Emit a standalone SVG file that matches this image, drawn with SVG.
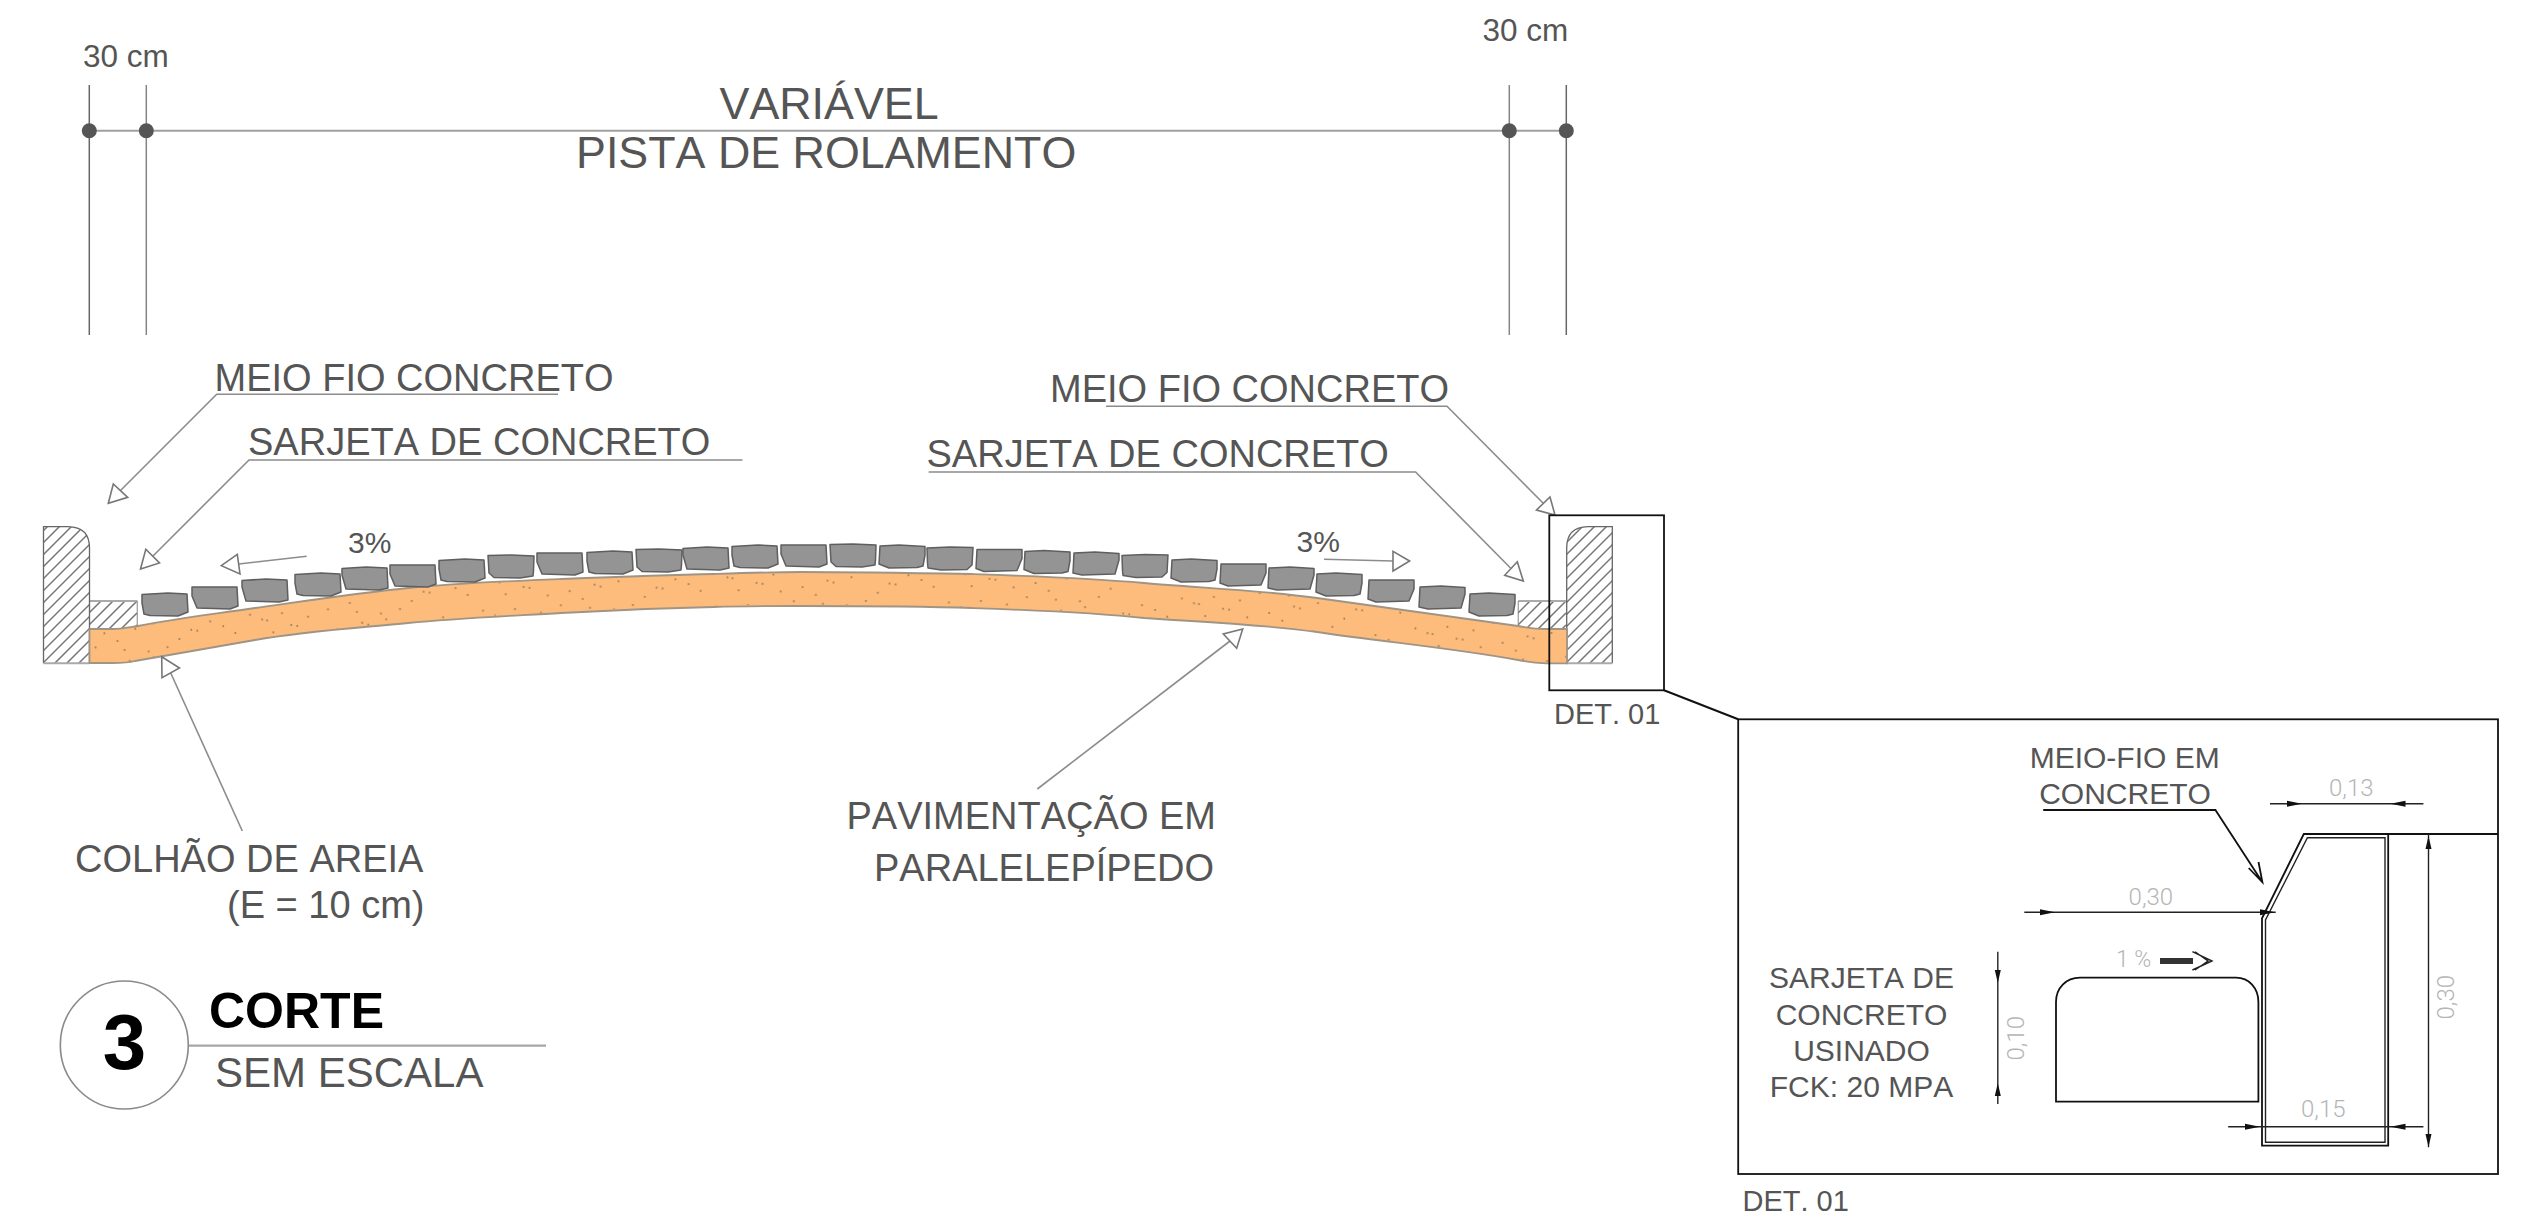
<svg xmlns="http://www.w3.org/2000/svg" xmlns:xlink="http://www.w3.org/1999/xlink" width="2531" height="1222" viewBox="0 0 2531 1222">
<style>
text{font-family:"Liberation Sans",Arial,sans-serif;fill:#555;font-kerning:none}
.t38{font-size:38px}.t30{font-size:30px}.t31{font-size:31.5px}.t29{font-size:29px}.t45{font-size:44.8px}.t42{font-size:42px}
.m{text-anchor:middle}
.dim{font-size:24px;font-family:"Roboto","Liberation Sans",sans-serif;font-weight:300;fill:#b5b5b5}
.lead{fill:none;stroke:#8c8c8c;stroke-width:1.6}
.ul{fill:none;stroke:#a6a6a6;stroke-width:2.2}
.oa{fill:#fff;stroke:#777;stroke-width:1.6;stroke-linejoin:miter}
.vl{stroke:#666;stroke-width:1.5}
.dot{fill:#555}
.cad{fill:none;stroke:#111;stroke-width:1.8}
.cadw{fill:none;stroke:#222;stroke-width:1.4}
.fa{fill:#111}
.hl{fill:none;stroke:#777;stroke-width:1.5}
.hb{fill:none;stroke:#aaa;stroke-width:2}
.hd{fill:none;stroke:#666;stroke-width:1.3}
.p{fill:#949494;stroke:#5f5f5f;stroke-width:1.5;stroke-linejoin:round}
</style>
<defs>
<path id="hx" class="hl" d="M0 0l48 -48M0 12l48 -48M0 24l48 -48M0 36l48 -48M0 48l48 -48M0 60l48 -48M0 72l48 -48M0 84l48 -48M0 96l48 -48M0 108l48 -48M0 120l48 -48M0 132l48 -48M0 144l48 -48M0 156l48 -48M0 168l48 -48M0 180l48 -48M0 192l48 -48"/>
<clipPath id="c1"><path d="M43.5 663.3V526.7H68Q89.5 527 89.5 548V663.3Z"/></clipPath>
<clipPath id="c2"><rect x="89.5" y="601" width="48" height="28"/></clipPath>
<clipPath id="c3"><rect x="1518.3" y="601" width="48.5" height="28"/></clipPath>
<clipPath id="c4"><path d="M1612.3 526.7V663.3H1566.7V548Q1566.7 527 1588 526.7Z"/></clipPath>
<pattern id="sd" width="233" height="34" patternUnits="userSpaceOnUse" patternTransform="rotate(-1)">
<path fill="none" stroke="#7d6a50" stroke-width="1.4" stroke-linecap="round" d="M6 7h.6M18 12h.6M23 13h.6M29 25h.6M38 6h.6M47 18h.6M53 19h.6M64 10h.6M71 27h.6M84 3h.6M93 23h.6M106 31h.6M113 6h.6M118 17h.6M124 19h.6M137 8h.6M142 14h.6M156 4h.6M168 30h.6M180 21h.6M186 22h.6M199 13h.6M212 18h.6M224 25h.6"/>
</pattern>
<polygon id="pa" class="p" points="0,1.5 26,0 45,1 46,19 36,23 8,22.5 2,21 0,10"/>
<polygon id="pb" class="p" points="0,1 45,1 46,20 38,23 5,22 0,10"/>
<polygon id="pc" class="p" points="0,1.5 24,0 45,1 46,21 37,23 4,22 0,8"/>
<polygon id="pd" class="p" points="0,0.5 23,0 46,1 45.5,16 45,21 32,23 6,22.5 1,18"/>
<polygon id="ar" class="fa" points="0,-3 15,0 0,3"/>
<polygon id="al" class="fa" points="0,-3 -15,0 0,3"/>
<polygon id="au" class="fa" points="-3,0 0,-13 3,0"/>
<polygon id="ad" class="fa" points="-3,0 0,13 3,0"/>
</defs>
<rect width="2531" height="1222" fill="#fff"/>

<g id="dimension-top">
<line class="vl" x1="89.3" y1="85" x2="89.3" y2="335"/>
<line class="vl" x1="146.3" y1="85" x2="146.3" y2="335" stroke-opacity=".8"/>
<line class="vl" x1="1509.3" y1="85" x2="1509.3" y2="335" stroke-opacity=".8"/>
<line class="vl" x1="1566.3" y1="85" x2="1566.3" y2="335"/>
<line x1="89" y1="130.7" x2="1566" y2="130.7" stroke="#a0a0a0" stroke-width="2"/>
<circle class="dot" cx="89.3" cy="130.7" r="7.5"/><circle class="dot" cx="146.3" cy="130.7" r="7.5"/><circle class="dot" cx="1509.3" cy="130.7" r="7.5"/><circle class="dot" cx="1566.3" cy="130.7" r="7.5"/>
<text class="t31" x="83" y="66.7">30 cm</text>
<text class="t31" x="1482.5" y="40.7">30 cm</text>
<text class="t45" x="719.5" y="119">VARIÁVEL</text>
<text class="t45" x="576" y="168">PISTA DE ROLAMENTO</text>
</g>

<g id="curb-left">
<g clip-path="url(#c2)"><use href="#hx" x="89" y="601"/></g>
<path class="hb" d="M89.5 601H137.3"/><path class="hd" d="M137.3 601V628" stroke-opacity=".6"/>
<g clip-path="url(#c1)"><use href="#hx" x="43" y="531"/></g>
<path class="hd" d="M43.5 663.3V526.7H68Q89.5 527 89.5 548V663.3"/><path class="hb" d="M43.5 663.3H89.5"/>
</g>
<g id="curb-right">
<g clip-path="url(#c3)"><use href="#hx" x="1518" y="601"/></g>
<path class="hb" d="M1518.3 601H1566.7"/><path class="hd" d="M1518.3 601V626" stroke-opacity=".6"/>
<g clip-path="url(#c4)"><use href="#hx" x="1566" y="531"/></g>
<path class="hd" d="M1612.3 663.3V526.7H1588Q1566.7 527 1566.7 548V663.3"/><path class="hb" d="M1566.7 663.3H1612.3"/>
</g>

<g id="sand-bed">
<path id="sandshape" fill="#fdbc7c" stroke="#a09484" stroke-width="1.8" d="M89.5 629H112C122 629 130 627 138 626C178 618 215 614 255 608C305 601 358 593 408 588C458 583 510 581 561 579C612 577 663 575 714 574C743 573 771 572 800 572C858 572 915 573 972 574C1029 576 1087 578 1144 583C1202 588 1260 590 1317 598C1384 607 1451 617 1518 626C1528 628 1537 629 1546 629H1567V663.3H1546C1537 663 1528 662 1518 660C1451 648 1384 642 1317 632C1260 624 1202 622 1144 618C1087 612 1029 610 972 608C915 606 858 606 800 606C771 606 743 606 714 607C663 608 612 610 561 613C510 616 459 618 408 623C357 628 306 631 255 640C210 648 165 656 135 661C128 663 120 663 112 663H89.5Z"/>
<path fill="url(#sd)" d="M91 630H112C122 630 130 628 138 627C178 619 215 615 255 609C305 602 358 594 408 589C458 584 510 582 561 580C612 578 663 576 714 575C743 574 771 573 800 573C858 573 915 574 972 575C1029 577 1087 579 1144 584C1202 589 1260 591 1317 599C1384 608 1451 618 1518 627C1528 629 1537 630 1546 630H1566V662H1546C1537 662 1528 661 1518 659C1451 647 1384 641 1317 631C1260 623 1202 621 1144 617C1087 611 1029 609 972 607C915 605 858 605 800 605C771 605 743 605 714 606C663 607 612 609 561 612C510 615 459 617 408 622C357 627 306 630 255 639C210 647 165 655 135 660C128 662 120 662 112 662H91Z"/>
</g>

<g id="pavers">
<use href="#pa" x="142" y="593"/><use href="#pb" x="192" y="586"/><use href="#pc" x="242" y="579"/><use href="#pa" x="295" y="573"/><use href="#pc" x="342" y="567"/><use href="#pb" x="390" y="564"/><use href="#pa" x="439" y="559"/><use href="#pd" x="488" y="555"/><use href="#pb" x="537" y="552"/><use href="#pa" x="587" y="551"/><use href="#pd" x="636" y="549"/><use href="#pc" x="683" y="547"/><use href="#pa" x="732" y="545"/><use href="#pb" x="781" y="544"/>
<use href="#pd" x="830" y="544"/><use href="#pa" transform="translate(925,545) scale(-1,1)"/><use href="#pd" transform="translate(973,547) scale(-1,1)"/><use href="#pb" transform="translate(1022,548.5) scale(-1,1)"/><use href="#pa" transform="translate(1070,550.5) scale(-1,1)"/><use href="#pc" transform="translate(1119,552) scale(-1,1)"/><use href="#pd" transform="translate(1168,554.5) scale(-1,1)"/><use href="#pa" transform="translate(1217,559) scale(-1,1)"/><use href="#pb" transform="translate(1266,563) scale(-1,1)"/><use href="#pc" transform="translate(1314,567) scale(-1,1)"/><use href="#pa" transform="translate(1362,573) scale(-1,1)"/><use href="#pb" transform="translate(1414,579) scale(-1,1)"/><use href="#pc" transform="translate(1465,586) scale(-1,1)"/><use href="#pa" transform="translate(1515,593) scale(-1,1)"/>
</g>

<g id="connectors">
<path class="lead" d="M558 394.3H216.7L120.5 490.5"/><polygon class="oa" points="108.3,503.3 113.3,484 127.7,497.3"/>
<path class="lead" d="M742.5 460H249L153 556"/><polygon class="oa" points="140.5,569 145.8,549.3 159.5,563"/>
<path class="lead" d="M306.7 556.3L238.7 564"/><polygon class="oa" points="221.3,565.7 237.3,554.3 240,574"/>
<path class="lead" d="M1324 559.3L1393 561"/><polygon class="oa" points="1409.6,561 1393,551.3 1393,571"/>
<path class="lead" d="M1106 406.3H1447L1543 503"/><polygon class="oa" points="1555,515 1550,497 1536.5,510"/>
<path class="lead" d="M928.6 472H1415.6L1511 568.5"/><polygon class="oa" points="1523.3,581 1517.3,561.7 1504.7,575.3"/>
<path class="lead" d="M242.3 831L170.5 672.5"/><polygon class="oa" points="161.7,656.7 162,677.7 179.5,668"/>
<path class="lead" d="M1037.3 789L1230 641"/><polygon class="oa" points="1242.7,629 1223.3,634 1236.7,648.3"/>
<path d="M1664 690.3L1738.2 719.3" fill="none" stroke="#111" stroke-width="2"/>
<path class="ul" d="M189 1045.7H546"/>
</g>

<g id="labels-section">
<text class="t38" x="214.5" y="390.5">MEIO FIO CONCRETO</text>
<text class="t38" x="248" y="455">SARJETA DE CONCRETO</text>
<text class="t38" x="1050" y="402">MEIO FIO CONCRETO</text>
<text class="t38" x="926.5" y="466.5">SARJETA DE CONCRETO</text>
<text class="t30" x="348" y="552.7">3%</text>
<text class="t30" x="1296.5" y="552.3">3%</text>
<text class="t38" x="75" y="872.3">COLHÃO DE AREIA</text>
<text class="t38" x="227" y="918.3">(E = 10 cm)</text>
<text class="t38" x="846.5" y="829.3">PAVIMENTAÇÃO EM</text>
<text class="t38" x="874" y="881">PARALELEPÍPEDO</text>
<text class="t29" x="1554" y="724.3">DET. 01</text>
</g>

<g id="title-block">
<circle cx="124.3" cy="1045" r="64" fill="none" stroke="#8a8a8a" stroke-width="1.6"/>
<text x="124.5" y="1069" class="m" font-size="78" font-weight="700" style="fill:#000">3</text>
<text x="209" y="1028.3" font-size="50" font-weight="700" style="fill:#000">CORTE</text>
<text class="t42" x="215" y="1086.7">SEM ESCALA</text>
</g>

<g id="detail-box">
<rect x="1549.3" y="515.3" width="114.7" height="175" class="cad" stroke-width="2.2"/>
<rect x="1738.2" y="719.3" width="759.8" height="454.7" class="cad"/>
<text class="t29" x="1742.5" y="1211">DET. 01</text>
</g>

<g id="detail-curb">
<path class="cad" d="M2498 834H2303.8L2262 918.3V1145.7H2388.2V834"/>
<path class="cadw" d="M2307.4 837.7H2385V1142.3H2265.5V920Z"/>
<text class="t30 m" x="2124.7" y="768.3">MEIO-FIO EM</text>
<text class="t30 m" x="2125" y="804">CONCRETO</text>
<path class="cad" d="M2043.2 810H2215.4L2262.4 882.3M2248.7 868L2262.4 882.3L2258.5 862"/>
</g>
<g id="detail-gutter">
<path class="cad" d="M2056 1101.7V1002C2056 988 2066 977.7 2080 977.7H2236C2249 977.7 2258.4 988 2258.4 1002V1101.7Z"/>
<text class="t30 m" x="1861.5" y="987.7">SARJETA DE</text>
<text class="t30 m" x="1861.5" y="1025">CONCRETO</text>
<text class="t30 m" x="1861.5" y="1061">USINADO</text>
<text class="t30 m" x="1861.5" y="1097.3">FCK: 20 MPA</text>
<text class="dim" x="2116" y="966.7" style="font-size:23px">1 %</text>
<rect x="2160" y="958" width="33" height="6" fill="#333"/>
<path class="cadw" d="M2192.4 951.7L2212 961L2192.4 970M2195 951.7L2208 961L2195 970"/>
</g>
<g id="detail-dimensions">
<line class="cadw" x1="2270" y1="803.7" x2="2423.4" y2="803.7"/><use href="#ar" x="2287" y="803.7"/><use href="#al" x="2405.5" y="803.7"/>
<text class="dim" x="2329" y="796">0,13</text>
<line class="cadw" x1="2024.3" y1="912.3" x2="2275.7" y2="912.3"/><use href="#ar" x="2040" y="912.3"/><use href="#ar" x="2260" y="912.3"/>
<text class="dim" x="2128.6" y="905">0,30</text>
<line class="cadw" x1="1997.8" y1="951.7" x2="1997.8" y2="1104"/><use href="#ad" x="1997.8" y="970"/><use href="#au" x="1997.8" y="1096"/>
<text class="dim" transform="translate(2024 1060.5) rotate(-90)">0,10</text>
<line class="cadw" x1="2428.5" y1="834" x2="2428.5" y2="1147.3"/><use href="#au" x="2428.5" y="849"/><use href="#ad" x="2428.5" y="1134"/>
<text class="dim" transform="translate(2454 1019.5) rotate(-90)">0,30</text>
<line class="cadw" x1="2228.2" y1="1126.7" x2="2423.4" y2="1126.7"/><use href="#ar" x="2245" y="1126.7"/><use href="#al" x="2405.5" y="1126.7"/>
<text class="dim" x="2301" y="1117.3">0,15</text>
</g>
</svg>
